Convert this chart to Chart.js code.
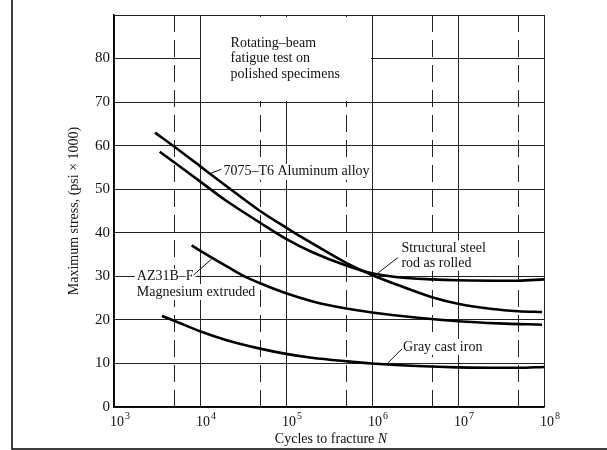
<!DOCTYPE html>
<html>
<head>
<meta charset="utf-8">
<script src="https://cdn.jsdelivr.net/npm/chart.js@4"></script>
<style>
  body { margin: 0; background: #fff; }
</style>
</head>
<body>
<canvas id="fatigueChart" width="607" height="450"></canvas>
<script>
// --- data (N = cycles, S = stress in psi x 1000) ---
const alumN = [3000, 5000, 1e4, 2e4, 5e4, 1e5, 2e5, 5e5, 1e6, 2e6, 5e6, 1e7, 2.5e7, 5e7, 9.5e7];
const alumS = [63.0, 59.8, 55.3, 50.8, 45.0, 41.2, 37.6, 33.1, 30.3, 28.0, 25.2, 23.7, 22.5, 22.0, 21.8];

const steelN = [3400, 5000, 1e4, 2e4, 5e4, 1e5, 2e5, 5e5, 1e6, 2e6, 5e6, 1e7, 5e7, 1e8];
const steelS = [58.6, 56.2, 51.8, 47.4, 42.3, 38.6, 35.6, 32.5, 30.7, 29.8, 29.3, 29.1, 29.0, 29.3];

const magN = [8000, 1e4, 2e4, 3e4, 5e4, 1e5, 2e5, 5e5, 1e6, 3e6, 1e7, 3e7, 9.5e7];
const magS = [37.1, 35.9, 32.4, 30.4, 28.4, 26.1, 24.3, 22.6, 21.7, 20.6, 19.7, 19.2, 18.9];

const ironN = [3600, 5000, 1e4, 2e4, 5e4, 1e5, 2e5, 5e5, 1e6, 1e7, 5e7, 1e8];
const ironS = [20.9, 19.8, 17.4, 15.4, 13.4, 12.2, 11.3, 10.5, 10.0, 9.1, 9.0, 9.2];

// axis ticks
const decadeTicks = [1e3, 1e4, 1e5, 1e6, 1e7, 1e8];
const decadeExp = ['3', '4', '5', '6', '7', '8'];
const dashedTicks = [5e3, 5e4, 5e5, 5e6, 5e7];
const stressLabels = [0, 10, 20, 30, 40, 50, 60, 70, 80];

// text notes on the plot (data coordinates)
const boxN = [1e4, 1e6];
const boxS = [70, 90];
const notes = [
  { lines: ['Rotating–beam', 'fatigue test on', 'polished specimens'], n: 2.27e4, s: 83.6, gap: 3.6, bg: false },
  { lines: ['7075–T6 Aluminum alloy'], n: 1.87e4, s: 54.0, gap: 0, bg: true },
  { lines: ['Structural steel', 'rod as rolled'], n: 2.2e6, s: 36.4, gap: 3.3, bg: true },
  { lines: ['AZ31B–F', 'Magnesium extruded'], n: 1.84e3, s: 29.9, gap: 3.5, bg: true },
  { lines: ['Gray cast iron'], n: 2.3e6, s: 13.8, gap: 0, bg: true }
];
const leaders = [
  [1.31e4, 53.6, 1.78e4, 54.6],
  [1.18e6, 30.8, 2.0e6, 34.3],
  [8.4e3, 30.3, 1.37e4, 34.0],
  [1.49e6, 9.9, 2.25e6, 13.4]
];

const serif = '"Liberation Serif", "Times New Roman", serif';

function pts(ns, ss) {
  return ns.map((n, i) => ({ x: n, y: ss[i] }));
}

function curve(ns, ss) {
  return {
    data: pts(ns, ss),
    showLine: true,
    borderColor: '#000',
    borderWidth: 2.6,
    pointRadius: 0,
    cubicInterpolationMode: 'monotone',
    fill: false
  };
}

const extras = {
  id: 'extras',
  beforeDatasetsDraw(chart) {
    const { ctx, chartArea: a, scales: { x, y } } = chart;
    ctx.save();
    // dashed lines at 5 x 10^n
    ctx.strokeStyle = '#222';
    ctx.lineWidth = 1;
    ctx.setLineDash([17, 8]);
    dashedTicks.forEach(v => {
      const px = Math.round(x.getPixelForValue(v)) + 0.5;
      ctx.beginPath();
      ctx.moveTo(px, a.top);
      ctx.lineTo(px, a.bottom);
      ctx.stroke();
    });
    ctx.setLineDash([]);
    // white box behind the test note
    const x1 = Math.round(x.getPixelForValue(boxN[0])) + 1;
    const x2 = Math.round(x.getPixelForValue(boxN[1])) - 1;
    const y1 = Math.round(y.getPixelForValue(boxS[1])) + 2;
    const y2 = Math.round(y.getPixelForValue(boxS[0])) - 1;
    ctx.fillStyle = '#fff';
    ctx.fillRect(x1, y1, x2 - x1, y2 - y1);
    ctx.restore();
  },
  afterDatasetsDraw(chart) {
    const { ctx, chartArea: a, scales: { x, y } } = chart;
    ctx.save();
    ctx.font = '14px ' + serif;
    ctx.textBaseline = 'middle';
    ctx.textAlign = 'left';
    notes.forEach(nt => {
      const px = x.getPixelForValue(nt.n);
      nt.lines.forEach((t, i) => {
        const py = y.getPixelForValue(nt.s - i * nt.gap);
        if (nt.bg) {
          const w = ctx.measureText(t).width;
          ctx.fillStyle = '#fff';
          ctx.fillRect(px - 2, py - 8, w + 4, 16);
        }
        ctx.fillStyle = '#111';
        ctx.fillText(t, px, py);
      });
    });
    // leader lines
    ctx.strokeStyle = '#111';
    ctx.lineWidth = 1;
    leaders.forEach(l => {
      ctx.beginPath();
      ctx.moveTo(x.getPixelForValue(l[0]), y.getPixelForValue(l[1]));
      ctx.lineTo(x.getPixelForValue(l[2]), y.getPixelForValue(l[3]));
      ctx.stroke();
    });
    // decade tick labels: 10 with raised exponent
    ctx.fillStyle = '#111';
    ctx.textBaseline = 'alphabetic';
    decadeTicks.forEach((v, i) => {
      const px = x.getPixelForValue(v);
      ctx.font = '14px ' + serif;
      const wb = ctx.measureText('10').width;
      ctx.textAlign = 'left';
      ctx.fillText('10', px - 4, a.bottom + 19);
      ctx.font = '10px ' + serif;
      ctx.fillText(decadeExp[i], px - 4 + wb + 1, a.bottom + 12);
    });
    // x title with italic N
    const t1 = 'Cycles to fracture ';
    ctx.textBaseline = 'middle';
    ctx.font = '14px ' + serif;
    const w1 = ctx.measureText(t1).width;
    ctx.font = 'italic 14px ' + serif;
    const w2 = ctx.measureText('N').width;
    const cx = (a.left + a.right) / 2 + 2;
    const sx = cx - (w1 + w2) / 2;
    ctx.font = '14px ' + serif;
    ctx.fillText(t1, sx, 439);
    ctx.font = 'italic 14px ' + serif;
    ctx.fillText('N', sx + w1, 439);
    // page edge lines of the scan
    ctx.strokeStyle = '#000';
    ctx.lineWidth = 1.5;
    ctx.beginPath();
    ctx.moveTo(12, 0);
    ctx.lineTo(12, 449);
    ctx.lineTo(607, 449);
    ctx.stroke();
    ctx.restore();
  }
};

const ctx = document.getElementById('fatigueChart').getContext('2d');
new Chart(ctx, {
  type: 'scatter',
  data: {
    datasets: [
      curve(alumN, alumS),
      curve(steelN, steelS),
      curve(magN, magS),
      curve(ironN, ironS)
    ]
  },
  options: {
    responsive: false,
    animation: false,
    layout: { padding: { left: 62, top: 15, right: 63, bottom: 0 } },
    plugins: {
      legend: { display: false },
      tooltip: { enabled: false }
    },
    scales: {
      x: {
        type: 'logarithmic',
        min: 1e3,
        max: 1e8,
        afterBuildTicks: s => { s.ticks = decadeTicks.map(v => ({ value: v })); },
        afterFit: s => { s.height = 43; },
        ticks: { display: false },
        grid: { color: '#222', lineWidth: 1, drawTicks: false },
        border: { color: '#000', width: 1.5 }
      },
      y: {
        min: 0,
        max: 90,
        afterFit: s => { s.width = 52; },
        ticks: {
          stepSize: 10,
          padding: 4,
          color: '#111',
          font: { family: serif, size: 15 },
          callback: v => stressLabels.includes(v) ? String(v) : ''
        },
        grid: { color: '#222', lineWidth: 1, drawTicks: false },
        border: { color: '#000', width: 1.5 },
        title: {
          display: true,
          text: 'Maximum stress, (psi × 1000)',
          color: '#111',
          font: { family: serif, size: 14 },
          padding: { top: 4, bottom: 0 }
        }
      }
    }
  },
  plugins: [extras]
});
</script>
</body>
</html>
